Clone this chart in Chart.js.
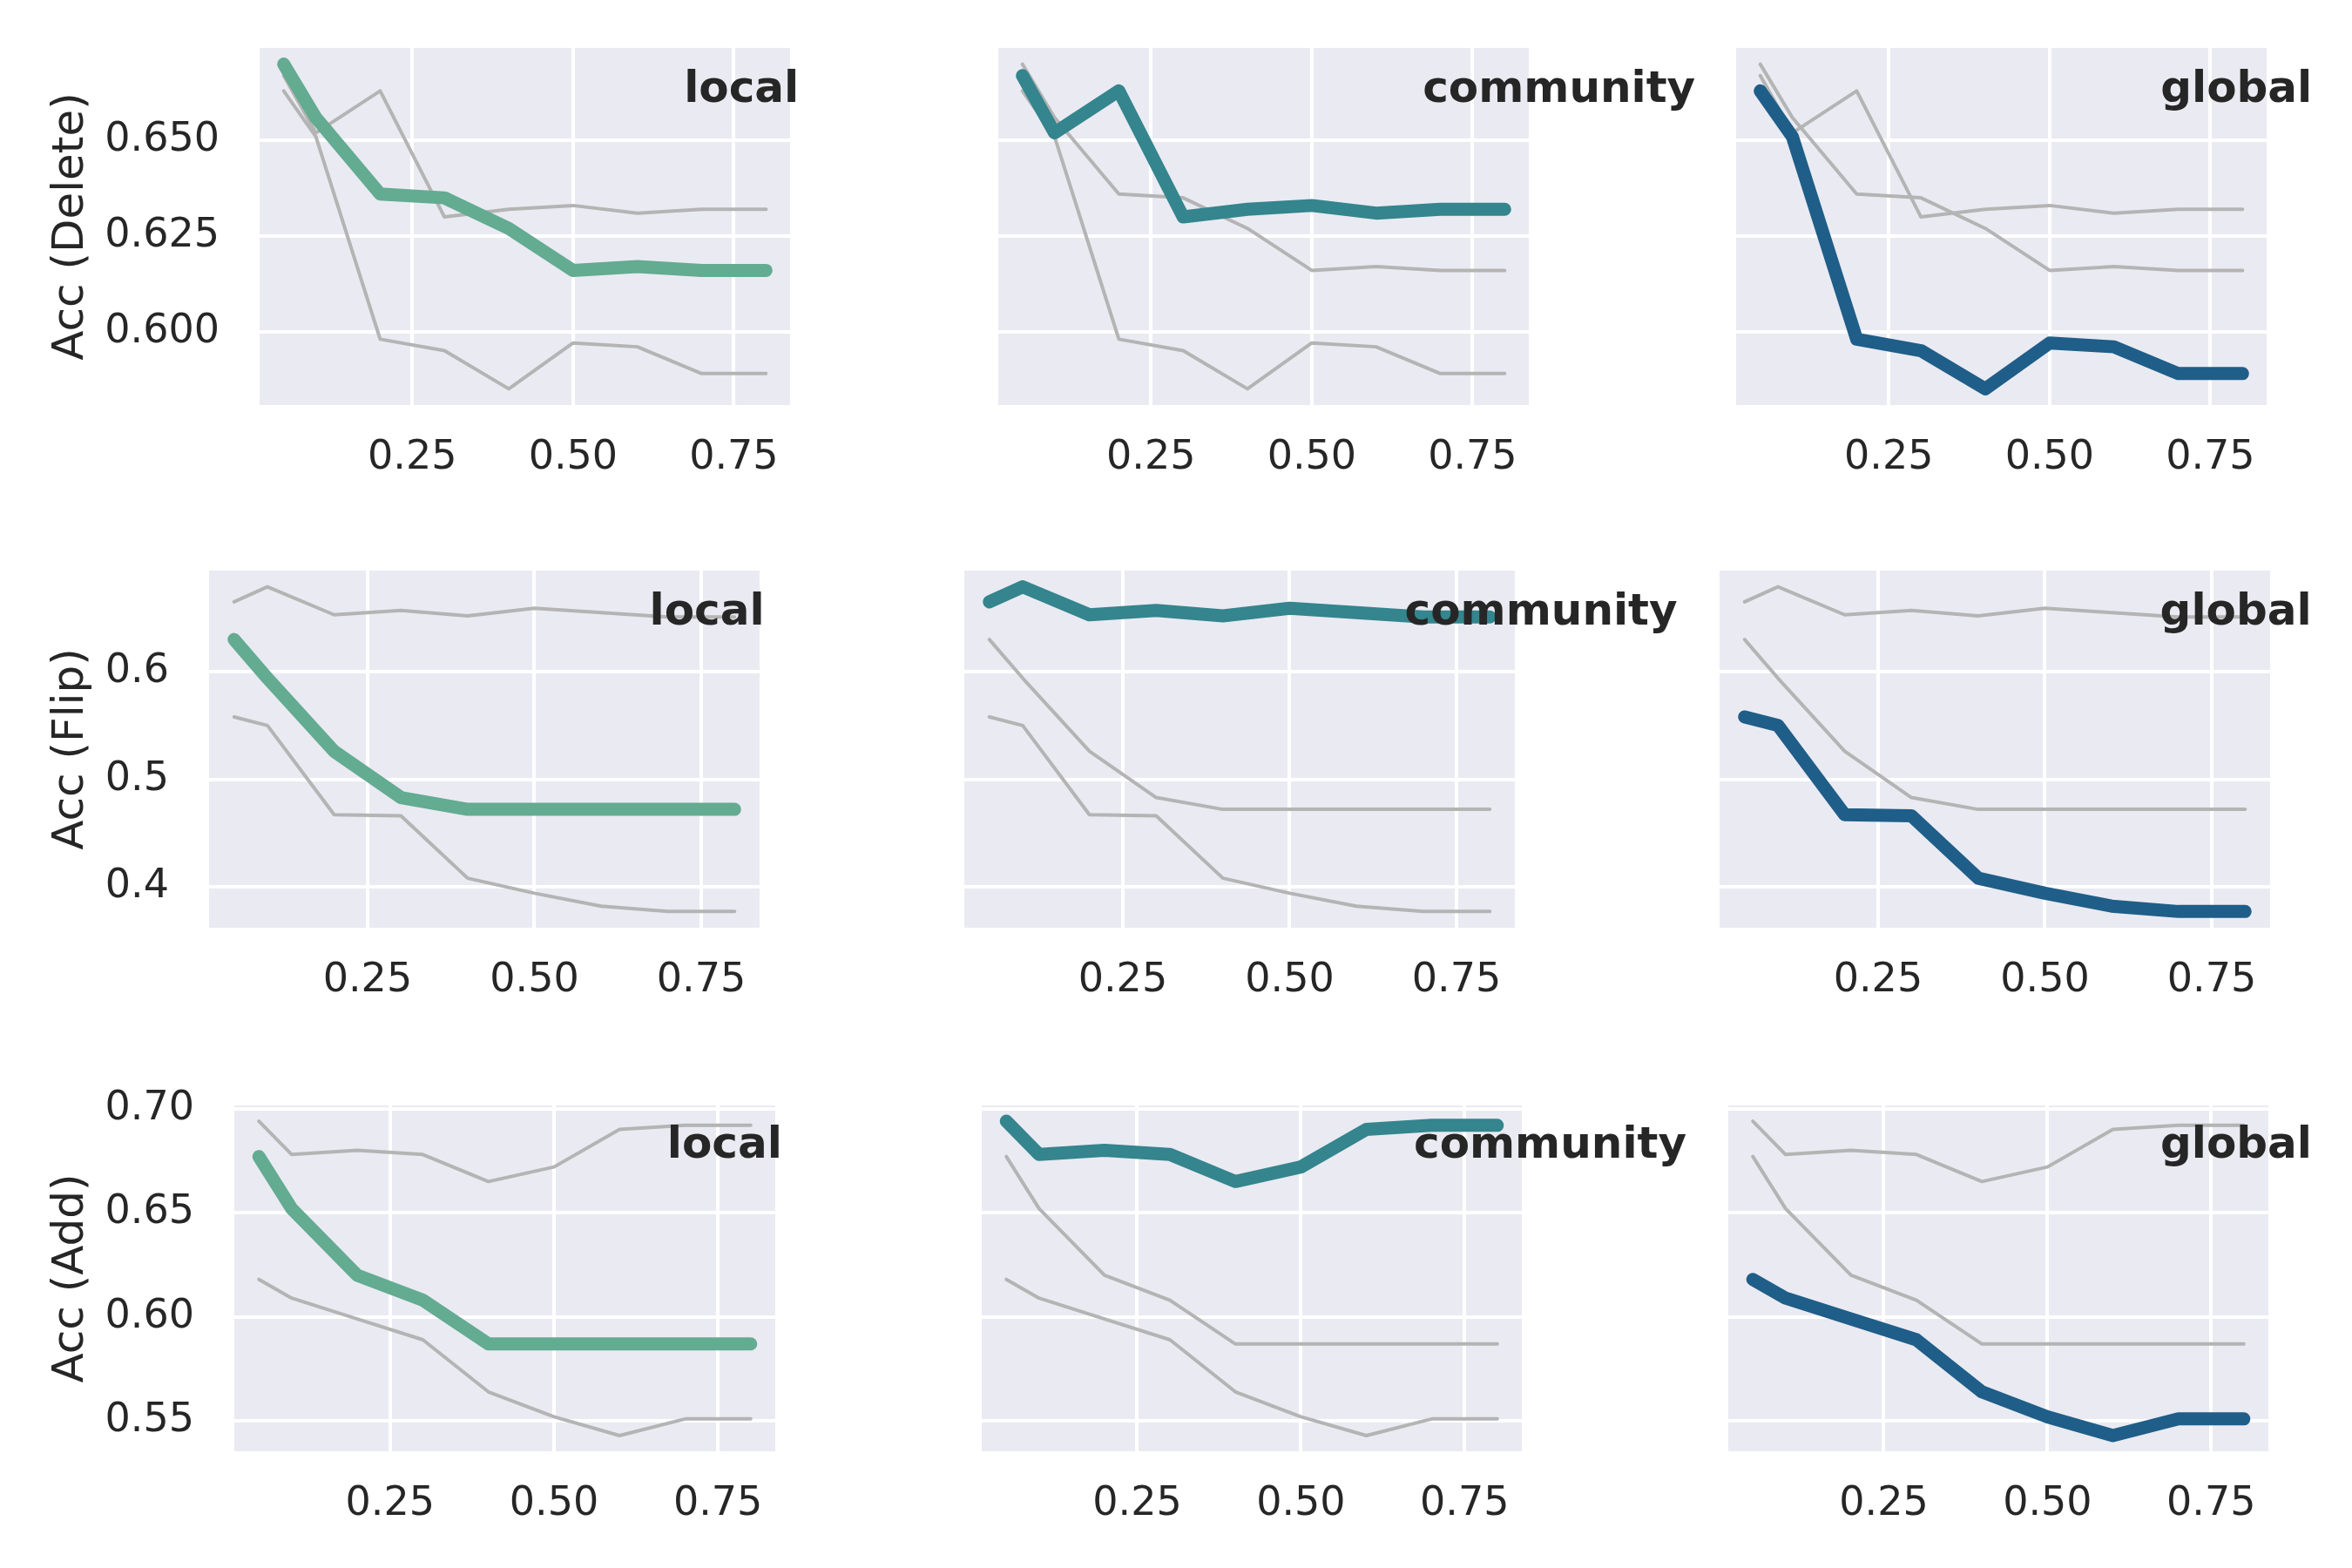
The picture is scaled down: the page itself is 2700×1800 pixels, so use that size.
<!DOCTYPE html>
<html>
<head>
<meta charset="utf-8">
<script src="https://cdn.jsdelivr.net/npm/chart.js@4.4.0/dist/chart.umd.min.js"></script>
<style>
  body { margin: 0; background: #ffffff; }
  #fig { position: relative; width: 2700px; height: 1800px; background: #ffffff; }
  #fig canvas { position: absolute; }
</style>
</head>
<body>
<div id="fig"></div>
<script>
// x values (fraction of perturbed edges)
const ratios = [0.05, 0.1, 0.2, 0.3, 0.4, 0.5, 0.6, 0.7, 0.8];
const methods = ['local', 'community', 'global'];

// accuracy under edge deletion
const deleteLocal     = [0.670, 0.656, 0.636, 0.635, 0.627, 0.616, 0.617, 0.616, 0.616];
const deleteCommunity = [0.667, 0.652, 0.663, 0.630, 0.632, 0.633, 0.631, 0.632, 0.632];
const deleteGlobal    = [0.663, 0.651, 0.598, 0.595, 0.585, 0.597, 0.596, 0.589, 0.589];

// accuracy under edge flipping
const flipLocal     = [0.630, 0.594, 0.526, 0.483, 0.472, 0.472, 0.472, 0.472, 0.472];
const flipCommunity = [0.665, 0.679, 0.653, 0.657, 0.652, 0.659, 0.655, 0.651, 0.651];
const flipGlobal    = [0.558, 0.550, 0.467, 0.466, 0.408, 0.394, 0.382, 0.377, 0.377];

// accuracy under edge addition
const addLocal     = [0.677, 0.652, 0.620, 0.608, 0.587, 0.587, 0.587, 0.587, 0.587];
const addCommunity = [0.694, 0.678, 0.680, 0.678, 0.665, 0.672, 0.690, 0.692, 0.692];
const addGlobal    = [0.618, 0.609, 0.599, 0.589, 0.564, 0.552, 0.543, 0.551, 0.551];

// tick labels
const xTickLabels = ['0.25', '0.50', '0.75'];
const deleteTickLabels = ['0.600', '0.625', '0.650'];
const flipTickLabels = ['0.4', '0.5', '0.6'];
const addTickLabels = ['0.55', '0.60', '0.65', '0.70'];

const rowTitles = ['Acc (Delete)', 'Acc (Flip)', 'Acc (Add)'];

const rows = [
  { title: rowTitles[0], ticks: deleteTickLabels, series: [deleteLocal, deleteCommunity, deleteGlobal] },
  { title: rowTitles[1], ticks: flipTickLabels, series: [flipLocal, flipCommunity, flipGlobal] },
  { title: rowTitles[2], ticks: addTickLabels, series: [addLocal, addCommunity, addGlobal] }
];

// plot-area geometry (px) for each row: top, height and [left, width] per column
const layout = [
  { top: 55,   h: 410, cols: [[298, 609], [1146, 609], [1993, 609]] },
  { top: 655,  h: 410, cols: [[240, 632], [1107, 632], [1974, 632]] },
  { top: 1269, h: 397, cols: [[269, 621], [1127, 620], [1984, 620]] }
];

const colors = ['#63ab91', '#34858d', '#1f5e88'];
const grey = '#b4b4b4';
const textColor = '#262626';
const FONT = '"DejaVu Sans", sans-serif';
const XAXIS_H = 110;
const RIGHT_PAD = 260;
const TOP_PAD = 40;

// 5% margins like matplotlib autoscale
function padRange(min, max) {
  const m = (max - min) * 0.05;
  return [min - m, max + m];
}
const xRange = padRange(Math.min(...ratios), Math.max(...ratios));

const panelBg = {
  id: 'panelBg',
  beforeDraw(chart) {
    const a = chart.chartArea;
    const ctx = chart.ctx;
    ctx.save();
    ctx.fillStyle = '#eaeaf2';
    ctx.fillRect(a.left, a.top, a.right - a.left, a.bottom - a.top);
    ctx.restore();
  }
};

const panelLabel = {
  id: 'panelLabel',
  afterDatasetsDraw(chart, args, opts) {
    const a = chart.chartArea;
    const ctx = chart.ctx;
    ctx.save();
    ctx.font = 'bold 50px ' + FONT;
    ctx.fillStyle = textColor;
    ctx.textAlign = 'left';
    ctx.textBaseline = 'alphabetic';
    ctx.fillText(opts.text, a.left + 0.8 * (a.right - a.left), a.top + 0.15 * (a.bottom - a.top));
    ctx.restore();
  }
};

const fig = document.getElementById('fig');

rows.forEach((row, r) => {
  const all = [].concat(...row.series);
  const yRange = padRange(Math.min(...all), Math.max(...all));
  const geo = layout[r];

  methods.forEach((name, c) => {
    const [plotLeft, plotW] = geo.cols[c];
    const showY = c === 0;
    const leftSpace = showY ? plotLeft : 0;
    const canvas = document.createElement('canvas');
    canvas.width = leftSpace + plotW + RIGHT_PAD;
    canvas.height = TOP_PAD + geo.h + XAXIS_H;
    canvas.style.left = (plotLeft - leftSpace) + 'px';
    canvas.style.top = (geo.top - TOP_PAD) + 'px';
    canvas.style.width = canvas.width + 'px';
    canvas.style.height = canvas.height + 'px';
    fig.appendChild(canvas);

    const datasets = [];
    row.series.forEach((vals, k) => {
      const hi = k === c;
      datasets.push({
        label: methods[k],
        data: ratios.map((x, i) => ({ x: x, y: vals[i] })),
        borderColor: hi ? colors[c] : grey,
        borderWidth: hi ? 15 : 4,
        borderCapStyle: 'round',
        borderJoinStyle: 'round',
        pointRadius: 0,
        tension: 0,
        fill: false,
        order: hi ? 0 : 1 + k
      });
    });

    new Chart(canvas, {
      type: 'line',
      data: { datasets: datasets },
      options: {
        responsive: false,
        animation: false,
        devicePixelRatio: 1,
        layout: { padding: { left: 0, top: TOP_PAD, right: RIGHT_PAD, bottom: 0 } },
        plugins: {
          legend: { display: false },
          tooltip: { enabled: false },
          panelLabel: { text: name }
        },
        scales: {
          x: {
            type: 'linear',
            min: xRange[0],
            max: xRange[1],
            border: { display: false },
            grid: { color: '#ffffff', lineWidth: 4, drawTicks: false },
            ticks: {
              color: textColor,
              font: { family: FONT, size: 46 },
              padding: 33,
              maxRotation: 0,
              callback: (v) => {
                const i = xTickLabels.findIndex(t => Math.abs(parseFloat(t) - v) < 1e-9);
                return i >= 0 ? xTickLabels[i] : '';
              }
            },
            afterBuildTicks: (s) => { s.ticks = xTickLabels.map(t => ({ value: parseFloat(t) })); },
            afterFit: (s) => { s.height = XAXIS_H; s.paddingLeft = 0; s.paddingRight = 0; }
          },
          y: {
            type: 'linear',
            min: yRange[0],
            max: yRange[1],
            border: { display: false },
            grid: { color: '#ffffff', lineWidth: 4, drawTicks: false },
            title: {
              display: showY,
              text: row.title,
              color: textColor,
              font: { family: FONT, size: 50 },
              padding: { top: 52, bottom: 0 }
            },
            ticks: {
              display: showY,
              color: textColor,
              font: { family: FONT, size: 46 },
              padding: 46,
              callback: (v) => {
                const i = row.ticks.findIndex(t => Math.abs(parseFloat(t) - v) < 1e-9);
                return i >= 0 ? row.ticks[i] : '';
              }
            },
            afterBuildTicks: (s) => { s.ticks = row.ticks.map(t => ({ value: parseFloat(t) })); },
            afterFit: (s) => { s.width = leftSpace; s.paddingTop = 0; s.paddingBottom = 0; }
          }
        }
      },
      plugins: [panelBg, panelLabel]
    });
  });
});
</script>
</body>
</html>
